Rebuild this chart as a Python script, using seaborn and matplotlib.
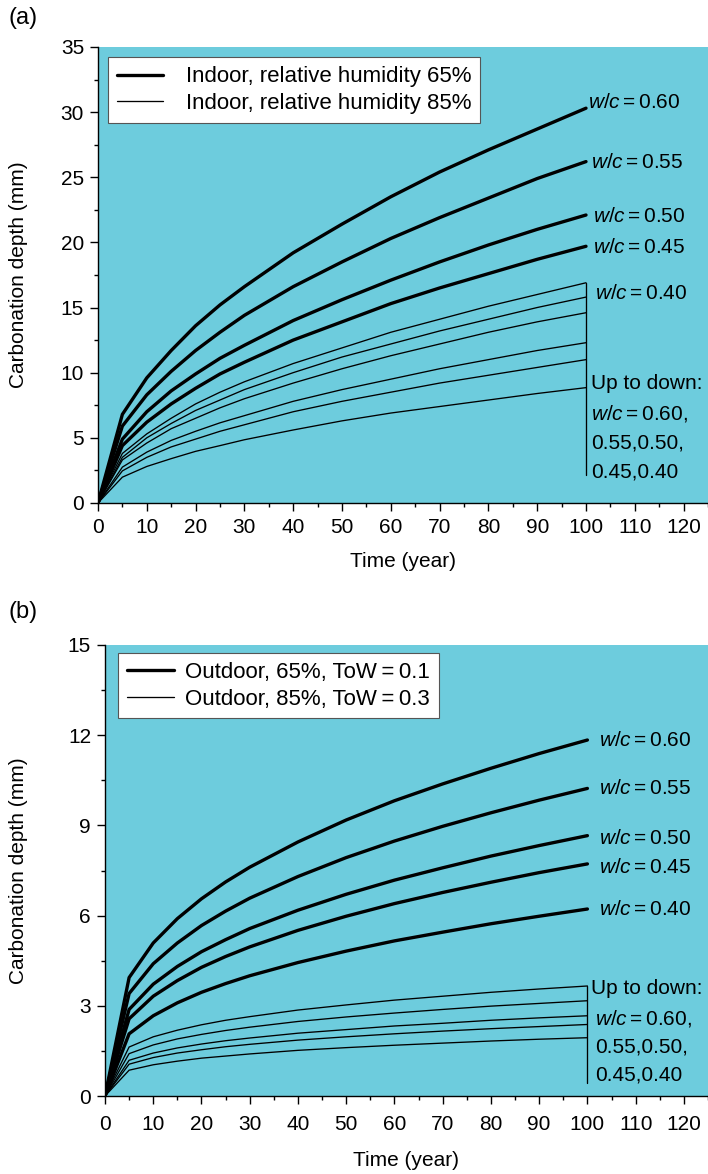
import numpy as np
import pandas as pd
import matplotlib
matplotlib.use("Agg")
import matplotlib.pyplot as plt
from matplotlib.lines import Line2D
import seaborn as sns

# time points (year)
years = [0, 5, 10, 15, 20, 25, 30, 40, 50, 60, 70, 80, 90, 100]

# (a) indoor, thick = RH 65%, thin = RH 85% ; w/c = 0.60, 0.55, 0.50, 0.45 (0.40)
a_thick = [
    [0, 6.8, 9.6, 11.7, 13.6, 15.2, 16.6, 19.2, 21.4, 23.5, 25.4, 27.1, 28.7, 30.3],
    [0, 5.9, 8.3, 10.1, 11.7, 13.1, 14.4, 16.6, 18.5, 20.3, 21.9, 23.4, 24.9, 26.2],
    [0, 4.9, 7.0, 8.6, 9.9, 11.1, 12.1, 14.0, 15.6, 17.1, 18.5, 19.8, 21.0, 22.1],
    [0, 4.4, 6.2, 7.6, 8.8, 9.9, 10.8, 12.5, 13.9, 15.3, 16.5, 17.6, 18.7, 19.7],
]
a_thin = [
    [0, 3.8, 5.3, 6.5, 7.6, 8.5, 9.3, 10.7, 11.9, 13.1, 14.1, 15.1, 16.0, 16.9],
    [0, 3.5, 5.0, 6.1, 7.1, 7.9, 8.7, 10.0, 11.2, 12.2, 13.2, 14.1, 15.0, 15.8],
    [0, 3.3, 4.6, 5.7, 6.5, 7.3, 8.0, 9.2, 10.3, 11.3, 12.2, 13.1, 13.9, 14.6],
    [0, 2.75, 3.9, 4.8, 5.5, 6.15, 6.7, 7.8, 8.7, 9.5, 10.3, 11.0, 11.7, 12.3],
    [0, 2.46, 3.5, 4.3, 4.9, 5.5, 6.0, 7.0, 7.8, 8.5, 9.2, 9.8, 10.4, 11.0],
    [0, 1.98, 2.8, 3.4, 3.96, 4.4, 4.85, 5.6, 6.3, 6.9, 7.4, 7.9, 8.4, 8.85],
]

# (b) outdoor, thick = 65% ToW 0.1, thin = 85% ToW 0.3
b_thick = [
    [0, 3.94, 5.09, 5.90, 6.56, 7.12, 7.61, 8.45, 9.18, 9.82, 10.38, 10.90, 11.39, 11.84],
    [0, 3.41, 4.40, 5.09, 5.67, 6.15, 6.58, 7.30, 7.93, 8.48, 8.97, 9.42, 9.84, 10.23],
    [0, 2.88, 3.72, 4.31, 4.80, 5.20, 5.57, 6.18, 6.71, 7.18, 7.59, 7.98, 8.33, 8.66],
    [0, 2.57, 3.32, 3.84, 4.28, 4.64, 4.96, 5.51, 5.98, 6.40, 6.77, 7.11, 7.43, 7.72],
    [0, 2.07, 2.67, 3.10, 3.45, 3.74, 4.00, 4.44, 4.82, 5.16, 5.45, 5.73, 5.98, 6.22],
]
b_thin = [
    [0, 1.63, 1.97, 2.19, 2.37, 2.52, 2.64, 2.86, 3.03, 3.19, 3.32, 3.45, 3.56, 3.66],
    [0, 1.41, 1.70, 1.90, 2.05, 2.18, 2.29, 2.48, 2.63, 2.76, 2.88, 2.99, 3.08, 3.17],
    [0, 1.19, 1.43, 1.60, 1.73, 1.84, 1.93, 2.09, 2.21, 2.33, 2.42, 2.52, 2.60, 2.67],
    [0, 1.06, 1.28, 1.43, 1.54, 1.64, 1.72, 1.86, 1.97, 2.07, 2.16, 2.24, 2.31, 2.38],
    [0, 0.86, 1.04, 1.16, 1.26, 1.33, 1.40, 1.52, 1.61, 1.69, 1.76, 1.83, 1.89, 1.94],
]

a_labels = ["0.60", "0.55", "0.50", "0.45", "0.40"]
a_label_y = [30.7, 26.1, 22.0, 19.6, 16.1]
b_labels = ["0.60", "0.55", "0.50", "0.45", "0.40"]
b_label_y = [11.84, 10.24, 8.58, 7.6, 6.19]
notes = ["Up to down:", r"$w/c = 0.60$,", "0.55,0.50,", "0.45,0.40"]

sns.set_style("ticks")
plt.rcParams["font.family"] = ["Liberation Sans", "DejaVu Sans"]
plt.rcParams["mathtext.fontset"] = "custom"
plt.rcParams["mathtext.rm"] = "Liberation Sans"
plt.rcParams["mathtext.it"] = "Liberation Sans:italic"
for k in ["text.color", "axes.labelcolor", "xtick.color", "ytick.color", "axes.edgecolor"]:
    plt.rcParams[k] = "black"

BG = "#6dccdd"
FS = 15
LFS = 16
THICK, THIN = 2.4, 0.95

fig = plt.figure(figsize=(7.08, 11.74), dpi=100)
ax1 = fig.add_axes([0.1384, 0.5716, 0.8616, 0.3884])
ax2 = fig.add_axes([0.1483, 0.0664, 0.8517, 0.3842])


def draw(ax, thick, thin):
    for vals in thick:
        sns.lineplot(x=years, y=vals, ax=ax, color="black", lw=THICK, legend=False)
    for vals in thin:
        sns.lineplot(x=years, y=vals, ax=ax, color="black", lw=THIN, legend=False)


def style(ax, ymax, ystep, xpad, xlab_y, ylab_x):
    ax.set_facecolor(BG)
    ax.set_xlim(0, 125)
    ax.set_ylim(0, ymax)
    ax.set_xticks(np.arange(0, 121, 10))
    ax.set_xticks(np.arange(0, 126, 5), minor=True)
    ax.set_yticks(np.arange(0, ymax + 0.01, ystep))
    ax.set_yticks(np.arange(0, ymax + 0.01, ystep / 2), minor=True)
    ax.tick_params(which="major", direction="out", length=6, width=1, labelsize=FS, pad=4)
    ax.tick_params(axis="x", which="major", pad=xpad)
    ax.tick_params(which="minor", direction="out", length=3.2, width=1)
    for s in ["top", "right"]:
        ax.spines[s].set_visible(False)
    for s in ["left", "bottom"]:
        ax.spines[s].set_linewidth(1)
    ax.set_xlabel("Time (year)", fontsize=FS)
    ax.set_ylabel("Carbonation depth (mm)", fontsize=FS)
    ax.xaxis.set_label_coords(0.5, xlab_y)
    ax.yaxis.set_label_coords(ylab_x, 0.5)


def legend(ax, labels, anchor, textpad):
    handles = [Line2D([], [], color="black", lw=THICK), Line2D([], [], color="black", lw=THIN)]
    leg = ax.legend(handles, labels, loc="upper left", bbox_to_anchor=anchor, fontsize=LFS,
                    frameon=True, fancybox=False, framealpha=1, edgecolor="#555555",
                    handlelength=2.1, handletextpad=textpad, borderpad=0.4,
                    labelspacing=0.25, borderaxespad=0)
    leg.get_frame().set_linewidth(0.8)


# panel (a)
draw(ax1, a_thick, a_thin)
style(ax1, 35, 5, 5, -0.108, -0.115)
ax1.plot([100, 100], [a_thin[0][-1], 2.15], color="black", lw=THIN)
for lab, y, x in zip(a_labels, a_label_y, [100.4, 101.0, 101.4, 101.4, 101.8]):
    ax1.text(x, y, rf"$w/c = {lab}$", fontsize=FS, va="center", ha="left")
for line, y in zip(notes, [9.2, 6.9, 4.6, 2.36]):
    ax1.text(101.0, y, line, fontsize=FS, va="center", ha="left")
legend(ax1, ["Indoor, relative humidity 65%", "Indoor, relative humidity 85%"],
       (0.016, 0.977), 1.0)

# panel (b)
draw(ax2, b_thick, b_thin)
style(ax2, 15, 3, 8, -0.122, -0.128)
ax2.plot([100, 100], [b_thin[0][-1], 0.43], color="black", lw=THIN)
for lab, y in zip(b_labels, b_label_y):
    ax2.text(102.5, y, rf"$w/c = {lab}$", fontsize=FS, va="center", ha="left")
for i, (line, y) in enumerate(zip(notes, [3.59, 2.59, 1.63, 0.7])):
    ax2.text(100.8 if i == 0 else 101.6, y, line, fontsize=FS, va="center", ha="left")
legend(ax2, ["Outdoor, 65%, ToW\u2009=\u20090.1", "Outdoor, 85%, ToW\u2009=\u20090.3"],
       (0.022, 0.982), 0.5)

fig.text(8 / 708, 1 - 18 / 1174, "(a)", fontsize=17, va="center", ha="left")
fig.text(8 / 708, 1 - 612 / 1174, "(b)", fontsize=17, va="center", ha="left")

fig.savefig("out.png", dpi=100)
